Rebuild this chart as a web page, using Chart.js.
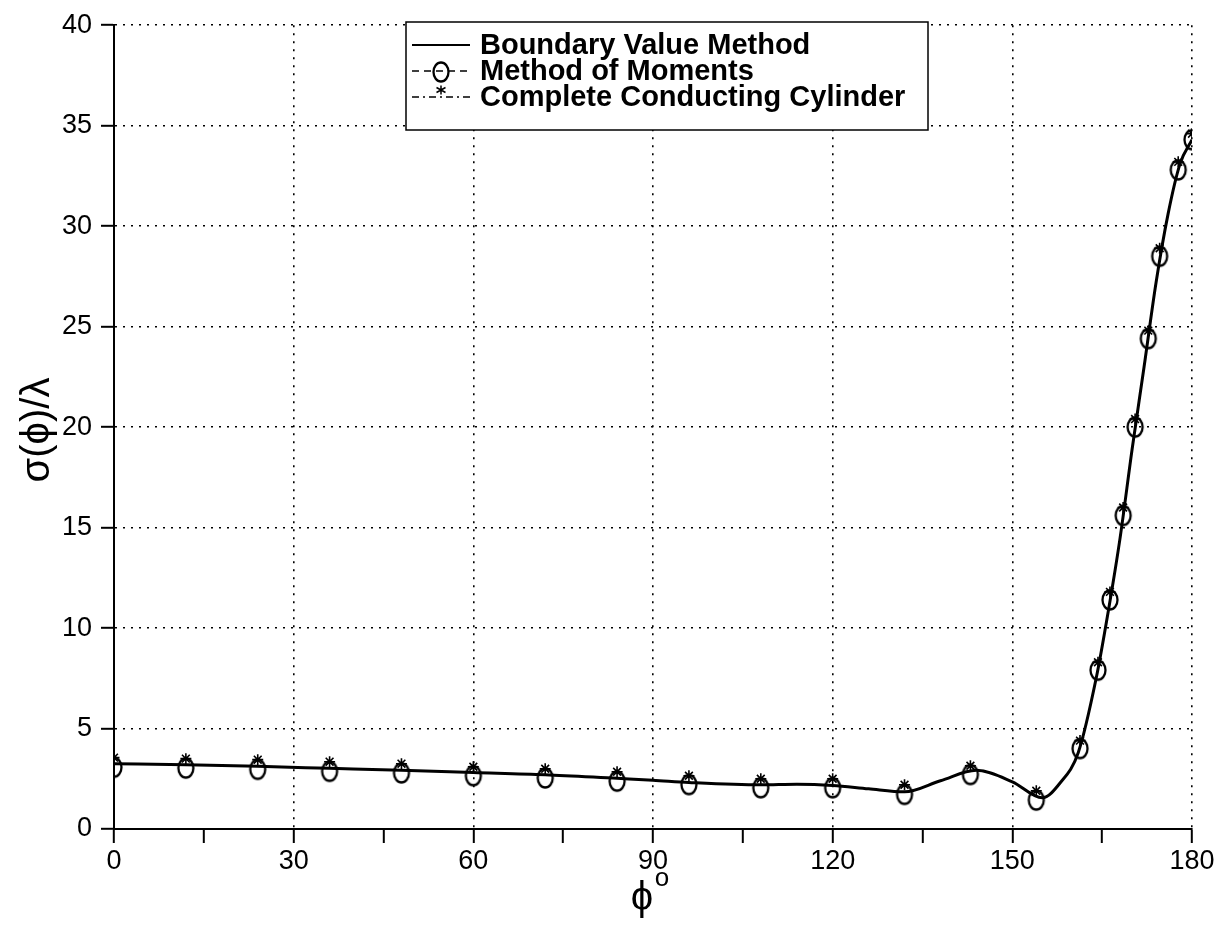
<!DOCTYPE html>
<html>
<head>
<meta charset="utf-8">
<script src="https://cdn.jsdelivr.net/npm/chart.js@4"></script>
<style>
  html, body { margin: 0; padding: 0; background: #fff; }
  #wrap { width: 1222px; height: 933px; }
</style>
</head>
<body>
<div id="wrap"><canvas id="chart" width="1222" height="933"></canvas></div>
<script>
// Boundary Value Method (solid curve)
const phiBVM = [0, 12, 24, 36, 48, 60, 72, 84, 90, 96, 108, 114, 120, 126, 132, 138, 144, 150, 155, 158, 161, 164, 166, 168, 170, 172, 174, 176, 178, 180];
const sigmaBVM = [3.25, 3.2, 3.12, 3.02, 2.92, 2.81, 2.7, 2.52, 2.43, 2.32, 2.2, 2.23, 2.17, 2.0, 1.85, 2.4, 2.92, 2.35, 1.55, 2.3, 3.8, 7.5, 10.8, 14.5, 18.9, 23.0, 27.2, 30.6, 33.1, 34.3];

// Method of Moments (circles)
const phiMoM = [0, 12, 24, 36, 48, 60, 72, 84, 96, 108, 120, 132, 143, 154, 161.3, 164.3, 166.3, 168.5, 170.5, 172.7, 174.6, 177.7, 180];
const sigmaMoM = [3.07, 3.03, 2.97, 2.87, 2.79, 2.65, 2.54, 2.38, 2.21, 2.05, 2.05, 1.72, 2.71, 1.44, 4.0, 7.9, 11.4, 15.6, 20.0, 24.4, 28.5, 32.8, 34.3];

// Complete Conducting Cylinder (stars)
const phiCCC = phiMoM;
const sigmaCCC = [3.55, 3.5, 3.45, 3.35, 3.25, 3.1, 3.0, 2.85, 2.65, 2.5, 2.5, 2.2, 3.15, 1.9, 4.4, 8.3, 11.8, 16.0, 20.4, 24.8, 28.9, 33.2, 34.6];

const xTicks = [0, 30, 60, 90, 120, 150, 180];
const yTicks = [0, 5, 10, 15, 20, 25, 30, 35, 40];

const toXY = (xs, ys) => xs.map((x, i) => ({x: x, y: ys[i]}));

// open "o" marker, a bit taller than wide like the scanned one
function makeOval() {
  const c = document.createElement('canvas');
  c.width = 20; c.height = 24;
  const g = c.getContext('2d');
  g.strokeStyle = '#000';
  g.lineWidth = 2.3;
  g.beginPath();
  g.ellipse(10, 12, 7.5, 9.5, 0, 0, Math.PI * 2);
  g.stroke();
  return c;
}
const oval = makeOval();

const FONT = "'Liberation Sans', Arial, Helvetica, sans-serif";

const extras = {
  id: 'extras',
  afterDraw(chart) {
    const ctx = chart.ctx;
    ctx.save();
    // axis titles
    ctx.fillStyle = '#000';
    ctx.font = '40px ' + FONT;
    ctx.textAlign = 'center';
    ctx.textBaseline = 'alphabetic';
    ctx.fillText('\u03D5', 642, 910);
    ctx.font = '26px ' + FONT;
    ctx.fillText('o', 662, 886);

    ctx.save();
    ctx.translate(49, 430);
    ctx.rotate(-Math.PI / 2);
    ctx.font = '40px ' + FONT;
    ctx.fillText('\u03C3(\u03D5)/\u03BB', 0, 0);
    ctx.restore();

    // legend box
    const bx = 406, by = 22, bw = 522, bh = 108;
    ctx.fillStyle = '#fff';
    ctx.fillRect(bx, by, bw, bh);
    ctx.strokeStyle = '#000';
    ctx.lineWidth = 1.5;
    ctx.strokeRect(bx, by, bw, bh);

    const rows = [
      {label: 'Boundary Value Method', y: 45, dash: [], mark: null},
      {label: 'Method of Moments', y: 71, dash: [7, 5], mark: 'o'},
      {label: 'Complete Conducting Cylinder', y: 97, dash: [7, 4, 2, 4], mark: '*'}
    ];
    rows.forEach(r => {
      ctx.strokeStyle = '#000';
      ctx.lineWidth = r.mark ? 1.5 : 2;
      ctx.setLineDash(r.dash);
      ctx.beginPath();
      ctx.moveTo(412, r.y);
      ctx.lineTo(470, r.y);
      ctx.stroke();
      ctx.setLineDash([]);
      if (r.mark === 'o') {
        ctx.drawImage(oval, 441 - 10, r.y - 11);
      } else if (r.mark === '*') {
        const sx = 441, sy = r.y - 7, s = 4.5;
        ctx.lineWidth = 1.5;
        ctx.beginPath();
        ctx.moveTo(sx, sy - s); ctx.lineTo(sx, sy + s);
        ctx.moveTo(sx - s, sy - s * 0.55); ctx.lineTo(sx + s, sy + s * 0.55);
        ctx.moveTo(sx - s, sy + s * 0.55); ctx.lineTo(sx + s, sy - s * 0.55);
        ctx.stroke();
      }
      ctx.fillStyle = '#000';
      ctx.font = 'bold 29px ' + FONT;
      ctx.textAlign = 'left';
      ctx.textBaseline = 'middle';
      ctx.fillText(r.label, 480, r.y + 1);
    });
    ctx.restore();
  }
};

new Chart(document.getElementById('chart'), {
  type: 'line',
  data: {
    datasets: [
      {
        label: 'Boundary Value Method',
        data: toXY(phiBVM, sigmaBVM),
        borderColor: '#000',
        borderWidth: 3,
        pointRadius: 0,
        cubicInterpolationMode: 'monotone',
        fill: false
      },
      {
        label: 'Method of Moments',
        data: toXY(phiMoM, sigmaMoM),
        showLine: false,
        pointStyle: oval,
        pointRadius: 9,
        borderColor: '#000'
      },
      {
        label: 'Complete Conducting Cylinder',
        data: toXY(phiCCC, sigmaCCC),
        showLine: false,
        pointStyle: 'star',
        pointRadius: 5.5,
        borderWidth: 1.6,
        borderColor: '#000',
        backgroundColor: '#000'
      }
    ]
  },
  options: {
    responsive: false,
    animation: false,
    layout: {padding: {left: 0, right: 30, top: 22, bottom: 0}},
    plugins: {legend: {display: false}, tooltip: {enabled: false}},
    scales: {
      x: {
        type: 'linear',
        min: 0,
        max: 180,
        afterBuildTicks: s => { s.ticks = [0, 15, 30, 45, 60, 75, 90, 105, 120, 135, 150, 165, 180].map(v => ({value: v})); },
        afterFit: s => { s.height = 104; },
        ticks: {
          color: '#000',
          font: {family: FONT, size: 27},
          padding: 2,
          maxRotation: 0,
          autoSkip: false,
          callback: v => xTicks.includes(v) ? String(v) : ''
        },
        grid: {
          color: c => (c.tick && xTicks.includes(c.tick.value) && c.tick.value !== 0) ? '#000' : 'rgba(0,0,0,0)',
          lineWidth: 1.6,
          tickColor: '#000',
          tickWidth: 2,
          tickLength: 14,
          tickBorderDash: []
        },
        border: {display: true, color: '#000', width: 2, dash: [2, 6]}
      },
      y: {
        type: 'linear',
        min: 0,
        max: 40,
        afterBuildTicks: s => { s.ticks = yTicks.map(v => ({value: v})); },
        afterFit: s => { s.width = 114; },
        ticks: {
          color: '#000',
          font: {family: FONT, size: 27},
          padding: 9
        },
        grid: {
          color: c => (c.tick && c.tick.value !== 0) ? '#000' : 'rgba(0,0,0,0)',
          lineWidth: 1.6,
          tickColor: '#000',
          tickWidth: 2,
          tickLength: 13,
          tickBorderDash: []
        },
        border: {display: true, color: '#000', width: 2, dash: [2, 6]}
      }
    }
  },
  plugins: [extras]
});
</script>
</body>
</html>
